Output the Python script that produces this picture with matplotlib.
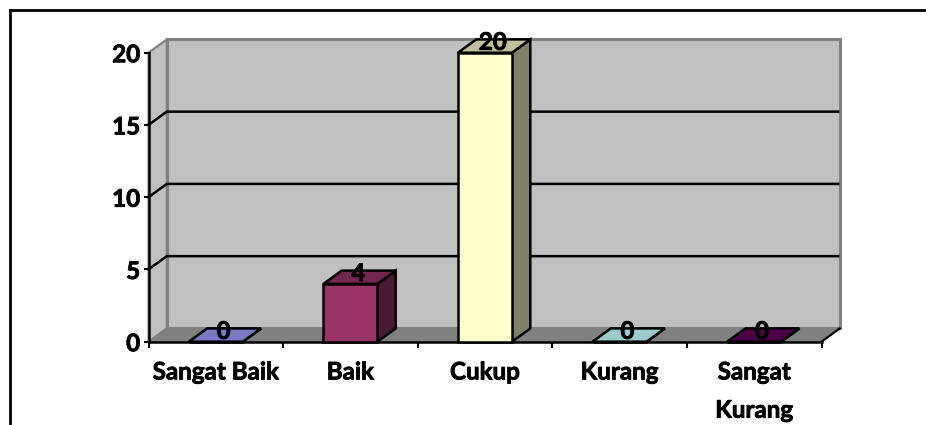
import matplotlib
matplotlib.use("Agg")
import matplotlib.pyplot as plt
import matplotlib.patheffects as pe
from matplotlib.lines import Line2D
from matplotlib.patches import Polygon

plt.rcParams['font.family'] = ['Lato', 'DejaVu Sans']
plt.rcParams['font.weight'] = 'bold'

categories = ["Sangat Baik", "Baik", "Cukup", "Kurang", "Sangat\nKurang"]
values = [0, 4, 20, 0, 0]
y_ticks = [0, 5, 10, 15, 20]
front_colors = ["#7878C4", "#993366", "#FFFFCC", "#99CCCC", "#4B0049"]
top_colors = ["#7878C4", "#722650", "#BFBF99", "#99CCCC", "#4B0049"]
side_colors = ["#5A5A93", "#4C1933", "#808066", "#739999", "#380037"]

W, H = 926, 425
left, right, base, top = 148.5, 821.5, 341.7, 52.7
font_size = 17.4
# lato bold is lighter than the original font, thicken it a bit
heavier = [pe.withStroke(linewidth=0.6, foreground="black")]

fig = plt.figure(figsize=(W / 100, H / 100), dpi=100)
fig.patch.set_facecolor("white")

# outer frame: only left and top sides show, the rest is cropped away
for xs, ys in [([9.5, 9.5], [H, 10]), ([9.5, W], [10, 10])]:
    fig.add_artist(Line2D([x / W for x in xs], [1 - y / H for y in ys],
                          color="black", lw=2.0, solid_joinstyle="miter"))

ax = fig.add_axes([left / W, 1 - base / H, (right - left) / W, (base - top) / H])
ax.set_xlim(0, 5)
ax.set_ylim(0, 20)
ax.patch.set_visible(False)

# depth of the fake 3d box in data units
dx = 18.3 / ((right - left) / 5)
dy = 13.3 / ((base - top) / 20)
bar_w = 54 / ((right - left) / 5)

wall = "#C0C0C0"
floor = "#808080"
edge = "#808080"

ax.add_patch(Polygon([(0, 0), (dx, dy), (dx, 20 + dy), (0, 20)],
                     fc=wall, ec=edge, lw=1.5, clip_on=False, zorder=1))
ax.add_patch(Polygon([(0, 0), (5, 0), (5 + dx, dy), (dx, dy)],
                     fc=floor, ec=edge, lw=1.2, clip_on=False, zorder=1))
ax.add_patch(Polygon([(dx, dy), (5 + dx, dy), (5 + dx, 20 + dy), (dx, 20 + dy)],
                     fc=wall, ec=edge, lw=2.2, clip_on=False, zorder=1))

# gridlines run along the side wall and the back wall
for t in y_ticks[1:-1]:
    ax.plot([0, dx, 5 + dx - 0.012], [t, t + dy, t + dy], color="black", lw=1.8,
            clip_on=False, zorder=2, solid_joinstyle="miter")

for i, v in enumerate(values):
    x0 = i + 0.5 - bar_w / 2
    x1 = i + 0.5 + bar_w / 2
    style = dict(ec="black", lw=1.8, joinstyle="miter", clip_on=False, zorder=3)
    ax.add_patch(Polygon([(x1, 0), (x1 + dx, dy), (x1 + dx, v + dy), (x1, v)],
                         fc=side_colors[i], **style))
    ax.add_patch(Polygon([(x0, v), (x1, v), (x1 + dx, v + dy), (x0 + dx, v + dy)],
                         fc=top_colors[i], **style))
    ax.add_patch(Polygon([(x0, 0), (x1, 0), (x1, v), (x0, v)],
                         fc=front_colors[i], **style))
    ax.text(i + 0.5 + dx / 2 - 0.01, v + dy - 0.2, str(v), ha="center", va="center",
            fontsize=font_size, fontweight="bold", color="black", zorder=4,
            path_effects=heavier)

# axis lines stay on top of the floor
for s in ["top", "right"]:
    ax.spines[s].set_visible(False)
for s in ["left", "bottom"]:
    ax.spines[s].set_linewidth(1.8)
    ax.spines[s].set_zorder(2.5)
# little diagonal end at the right of the floor
ax.plot([5, 5 + dx], [0, dy], color="black", lw=1.5, clip_on=False, zorder=2.5)

ax.set_yticks(y_ticks)
ax.set_xticks(range(6))
ax.set_xticklabels([])
ax.set_xticks([i + 0.5 for i in range(5)], categories, minor=True)
ax.tick_params(axis="x", which="major", length=4.5, width=1.5, direction="out")
ax.tick_params(axis="x", which="minor", length=0, pad=13.5, labelsize=font_size)
ax.tick_params(axis="y", length=3.5, width=1.5, pad=2.5, labelsize=font_size)
for lbl in ax.get_xticklabels(minor=True):
    lbl.set_fontweight("bold")
    lbl.set_linespacing(1.8)
    lbl.set_path_effects(heavier)
for lbl in ax.get_yticklabels():
    lbl.set_fontweight("bold")
    lbl.set_path_effects(heavier)

fig.savefig("out.png", dpi=100)
